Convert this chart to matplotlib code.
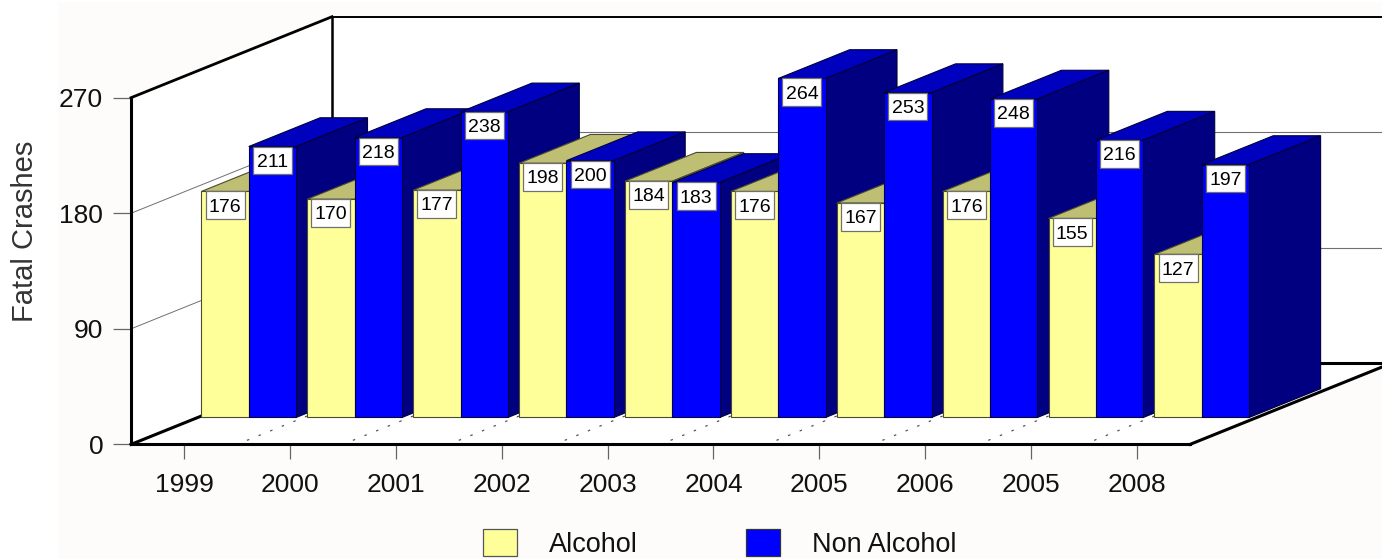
import matplotlib
matplotlib.use("Agg")
import matplotlib.pyplot as plt
from matplotlib.patches import Polygon, Rectangle, Patch

years = ["1999", "2000", "2001", "2002", "2003", "2004", "2005", "2006", "2005", "2008"]
alcohol = [176, 170, 177, 198, 184, 176, 167, 176, 155, 127]
non_alcohol = [211, 218, 238, 200, 183, 264, 253, 248, 216, 197]
y_ticks = [0, 90, 180, 270]
series_names = ["Alcohol", "Non Alcohol"]

W, H = 1382, 559
PX_X = 105.9    # pixels per category
PX_Y = 1.284    # pixels per crash
X0, Y0 = 131, 444.4

# depth of the box, in data units
DX = 201 / PX_X
DY = 81 / PX_Y
BAR_D0, BAR_D1 = 0.35, 0.705
BAR_W = 0.4476
BAR_DROP = 1.4 / PX_Y   # bars sit a bit lower than their depth gives

plt.rcParams["font.family"] = ["Liberation Sans", "DejaVu Sans"]

fig = plt.figure(figsize=(W / 100, H / 100), dpi=100, facecolor="white")
ax = fig.add_axes([0, 0, 1, 1])
ax.set_facecolor("none")
ax.set_xlim(-X0 / PX_X, (W - X0) / PX_X)
ax.set_ylim((Y0 - H) / PX_Y, Y0 / PX_Y)

# off-white panel, the picture has a white strip left of it
ax.add_patch(Rectangle((58 / W, 0), 1 - 58 / W, 1 - 2 / H, transform=ax.transAxes,
                       fc="#FDFCFA", ec="none", zorder=0))


def pr(x, y, d=0.0):
    return (x + d * DX, y + d * DY)


def bp(x, y, d):
    px, py = pr(x, y, d)
    return (px, py - BAR_DROP)


def face(pts, fc, ec, z):
    ax.add_patch(Polygon(pts, closed=True, fc=fc, ec=ec, lw=0.8, zorder=z, joinstyle="miter"))


def line(p, q, color="black", lw=2.0, z=2, **kw):
    ax.plot([p[0], q[0]], [p[1], q[1]], color=color, lw=lw, zorder=z,
            solid_capstyle="projecting", **kw)


top = y_ticks[-1]
n = len(years)
far = (W - X0) / PX_X + 1

# walls and floor
ax.add_patch(Polygon([pr(0, 0), pr(0, top), pr(0, top, 1), pr(0, 0, 1)], fc="white", ec="none", zorder=1))
ax.add_patch(Polygon([pr(0, 0, 1), pr(0, top, 1), (far, top + DY), (far, DY)], fc="white", ec="none", zorder=1))
ax.add_patch(Polygon([pr(0, 0), pr(n, 0), pr(n, 0, 1), pr(0, 0, 1)], fc="white", ec="none", zorder=1))

for v in y_ticks[1:-1]:
    line(pr(0, v), pr(0, v, 1), color="#707070", lw=0.7)
    line(pr(0, v, 1), (far, v + DY), color="#707070", lw=0.8)

line(pr(0, top), pr(0, top, 1), lw=2.0)
line(pr(0, top, 1), (far, top + DY), lw=1.4)
line(pr(0, 0, 1), pr(0, top, 1), lw=1.8)
line(pr(0, 0, 1), (far, DY), lw=2.2)
line(pr(0, 0), pr(0, 0, 1), lw=2.2)
line(pr(n, 0), pr(n, 0, 1), lw=2.2, z=40)

for i in range(1, n):
    ax.plot([pr(i, 0, 0.05)[0], pr(i, 0, BAR_D0)[0]], [pr(i, 0, 0.05)[1], pr(i, 0, BAR_D0)[1]],
            color="#555555", lw=0.9, dashes=(2, 8), zorder=2)


def draw_bar(x, v, front, top_c, side_c, ec, z):
    x1 = x + BAR_W
    face([bp(x, v, BAR_D0), bp(x1, v, BAR_D0), bp(x1, v, BAR_D1), bp(x, v, BAR_D1)], top_c, ec, z)
    face([bp(x1, 0, BAR_D0), bp(x1, v, BAR_D0), bp(x1, v, BAR_D1), bp(x1, 0, BAR_D1)], side_c, ec, z)
    face([bp(x, 0, BAR_D0), bp(x1, 0, BAR_D0), bp(x1, v, BAR_D0), bp(x, v, BAR_D0)], front, ec, z)


def value_box(x, v, z):
    bw, bh = 39 / PX_X, 27.5 / PX_Y
    cx, by = bp(x + BAR_W / 2, v, BAR_D0)
    ax.add_patch(Rectangle((cx - bw / 2, by - bh), bw, bh, fc="white", ec="#707070", lw=0.9, zorder=z))
    ax.text(cx, by - bh / 2, str(v), ha="center", va="center_baseline", fontsize=14, color="black", zorder=z)


z = 10
for i in range(n):
    draw_bar(i, alcohol[i], "#FFFF99", "#BFBF73", "#808050", "#4A4A30", z)
    value_box(i, alcohol[i], z + 1)
    draw_bar(i + BAR_W, non_alcohol[i], "#0000FF", "#0000BF", "#000080", "#000040", z + 2)
    value_box(i + BAR_W, non_alcohol[i], z + 3)
    z += 4

# axes
for s in ["top", "right"]:
    ax.spines[s].set_visible(False)
ax.spines["left"].set_position(("data", 0))
ax.spines["left"].set_bounds(0, top)
ax.spines["left"].set_linewidth(2.2)
ax.spines["bottom"].set_position(("data", 0))
ax.spines["bottom"].set_bounds(0, n)
ax.spines["bottom"].set_linewidth(2.2)
ax.spines["left"].set_zorder(50)
ax.spines["bottom"].set_zorder(50)

ax.set_yticks(y_ticks)
ax.set_xticks([i + 0.5 for i in range(n)])
ax.set_xticklabels(years)
ax.tick_params(axis="y", length=13, width=0.9, color="#666666", labelsize=19, pad=7, labelcolor="#111111")
ax.tick_params(axis="x", length=11, width=0.9, color="#666666", labelsize=19, pad=9.5, labelcolor="#111111")

ax.set_ylabel("Fatal Crashes", fontsize=21, color="#333333", va="center")
ax.yaxis.set_label_coords(25 / W, 1 - 231 / H)

handles = [Patch(fc="#FFFF99", ec="#555555", lw=0.9), Patch(fc="#0000FF", ec="#333333", lw=0.9)]
ax.legend(handles, series_names, ncols=2, frameon=False, fontsize=19.5, loc="lower left",
          bbox_to_anchor=(483 / W, 1 / H), borderpad=0, borderaxespad=0,
          handlelength=1.26, handleheight=1.15, handletextpad=1.18, columnspacing=4.0,
          labelcolor="#111111")

fig.savefig("out.png", dpi=100, facecolor=fig.get_facecolor())
